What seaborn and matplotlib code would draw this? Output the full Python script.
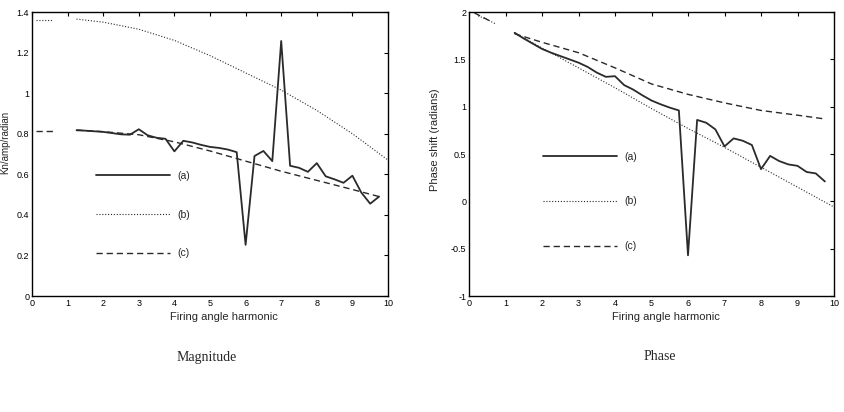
import matplotlib
matplotlib.use("Agg")
import matplotlib.pyplot as plt
import seaborn as sns
import numpy as np
import pandas as pd

# ---------------- data ----------------
harm = [1.25, 1.5, 1.75, 2.0, 2.25, 2.5, 2.75, 3.0, 3.25, 3.5, 3.75, 4.0,
        4.25, 4.5, 4.75, 5.0, 5.25, 5.5, 5.75, 6.0, 6.25, 6.5, 6.75, 7.0,
        7.25, 7.5, 7.75, 8.0, 8.25, 8.5, 8.75, 9.0, 9.25, 9.5, 9.75]

mag_a = [0.817, 0.815, 0.812, 0.809, 0.803, 0.797, 0.795, 0.822, 0.792, 0.780,
         0.775, 0.713, 0.765, 0.757, 0.745, 0.735, 0.730, 0.722, 0.709, 0.252,
         0.690, 0.715, 0.665, 1.257, 0.642, 0.632, 0.612, 0.655, 0.590, 0.575,
         0.558, 0.593, 0.510, 0.455, 0.490]

mag_b_x0 = [0.1, 0.35, 0.6]
mag_b_y0 = [1.36, 1.36, 1.36]
mag_b_x = [1.25, 2.0, 3.0, 4.0, 5.0, 6.0, 7.0, 8.0, 9.0, 10.0]
mag_b_y = [1.365, 1.35, 1.315, 1.26, 1.185, 1.10, 1.015, 0.915, 0.80, 0.67]

mag_c_x0 = [0.1, 0.35, 0.6]
mag_c_y0 = [0.815, 0.815, 0.815]
mag_c_x = [1.25, 2.0, 3.0, 4.0, 5.0, 6.0, 7.0, 8.0, 9.0, 9.75]
mag_c_y = [0.818, 0.81, 0.795, 0.76, 0.715, 0.665, 0.615, 0.57, 0.525, 0.49]

ph_a = [1.78, 1.72, 1.665, 1.61, 1.57, 1.535, 1.50, 1.465, 1.42, 1.36, 1.315,
        1.322, 1.228, 1.18, 1.12, 1.065, 1.025, 0.99, 0.96, -0.57, 0.86, 0.83,
        0.76, 0.58, 0.665, 0.64, 0.595, 0.34, 0.48, 0.425, 0.39, 0.375, 0.31,
        0.295, 0.21]

ph_b_x0 = [0.25, 0.5, 0.75]
ph_b_y0 = [1.96, 1.92, 1.87]
ph_b_x = [1.25, 2.0, 3.0, 4.0, 5.0, 6.0, 7.0, 8.0, 9.0, 10.0]
ph_b_y = [1.78, 1.62, 1.41, 1.20, 0.98, 0.77, 0.57, 0.36, 0.15, -0.06]

ph_c_x0 = [0.15, 0.35, 0.55]
ph_c_y0 = [1.99, 1.95, 1.91]
ph_c_x = [1.25, 2.0, 3.0, 4.0, 5.0, 6.0, 7.0, 8.0, 9.0, 9.75]
ph_c_y = [1.77, 1.68, 1.57, 1.41, 1.24, 1.13, 1.04, 0.96, 0.91, 0.87]

labels = ["(a)", "(b)", "(c)"]
x_ticks = [0, 1, 2, 3, 4, 5, 6, 7, 8, 9, 10]
mag_yticks = [0, 0.2, 0.4, 0.6, 0.8, 1.0, 1.2, 1.4]
mag_yticklabels = ["0", "0.2", "0.4", "0.6", "0.8", "1", "1.2", "1.4"]
ph_yticks = [-1, -0.5, 0, 0.5, 1, 1.5, 2]
ph_yticklabels = ["-1", "-0.5", "0", "0.5", "1", "1.5", "2"]

# ---------------- style ----------------
sns.set_style("white")
plt.rcParams["font.family"] = ["Liberation Sans", "DejaVu Sans"]

fig = plt.figure(figsize=(8.44, 4.12), dpi=100)
W, H = 844, 412
ax1 = fig.add_axes([32 / W, 1 - 296 / H, 356 / W, 284 / H])
ax2 = fig.add_axes([469 / W, 1 - 296 / H, 365 / W, 284 / H])

col = "#2a2a2a"
sty_a = dict(color=col, linewidth=1.3, linestyle="-")
sty_b = dict(color=col, linewidth=0.8, dashes=(1, 1.6))
sty_c = dict(color=col, linewidth=1.0, dashes=(4.5, 2.8))


def draw(ax, ya, bx0, by0, bx, by, cx0, cy0, cx, cy):
    la = sns.lineplot(x=harm, y=ya, ax=ax, **sty_a).lines[-1]
    sns.lineplot(x=bx0, y=by0, ax=ax, **sty_b)
    lb = sns.lineplot(x=bx, y=by, ax=ax, **sty_b).lines[-1]
    sns.lineplot(x=cx0, y=cy0, ax=ax, **sty_c)
    lc = sns.lineplot(x=cx, y=cy, ax=ax, **sty_c).lines[-1]
    return [la, lb, lc]


h1 = draw(ax1, mag_a, mag_b_x0, mag_b_y0, mag_b_x, mag_b_y,
          mag_c_x0, mag_c_y0, mag_c_x, mag_c_y)
h2 = draw(ax2, ph_a, ph_b_x0, ph_b_y0, ph_b_x, ph_b_y,
          ph_c_x0, ph_c_y0, ph_c_x, ph_c_y)

for ax in (ax1, ax2):
    ax.set_xlim(0, 10)
    ax.set_xticks(x_ticks)
    ax.tick_params(direction="in", length=3, width=0.8, top=True, right=True,
                   labelsize=6.5, pad=2, colors="black")
    for s in ax.spines.values():
        s.set_visible(True)
        s.set_color("black")
        s.set_linewidth(1.0)
    ax.set_xlabel("Firing angle harmonic", fontsize=8, labelpad=1)
    ax.xaxis.set_label_coords(0.54, -0.055)

ax1.set_ylim(0, 1.4)
ax1.set_yticks(mag_yticks)
ax1.set_yticklabels(mag_yticklabels)
ax1.set_ylabel("Kn/amp/radian", fontsize=7)
ax1.yaxis.set_label_coords(-0.062, 0.54)

ax2.set_ylim(-1, 2)
ax2.set_yticks(ph_yticks)
ax2.set_yticklabels(ph_yticklabels)
ax2.set_ylabel("Phase shift (radians)", fontsize=8)
ax2.yaxis.set_label_coords(-0.079, 0.55)

leg_kw = dict(frameon=False, fontsize=7.5, handlelength=7.1, handletextpad=0.75,
              borderpad=0, borderaxespad=0, loc="center left")
ax1.legend(h1, labels, bbox_to_anchor=(0.18, 0.286), labelspacing=2.75, **leg_kw)
ax2.legend(h2, labels, bbox_to_anchor=(0.203, 0.333), labelspacing=3.35, **leg_kw)

fig.text(207 / W, 1 - 357 / H, "Magnitude", ha="center", va="center",
         fontsize=10, family=["Liberation Serif", "DejaVu Serif"])
fig.text(660 / W, 1 - 357 / H, "Phase", ha="center", va="center",
         fontsize=10, family=["Liberation Serif", "DejaVu Serif"])

fig.savefig("out.png", dpi=100)
